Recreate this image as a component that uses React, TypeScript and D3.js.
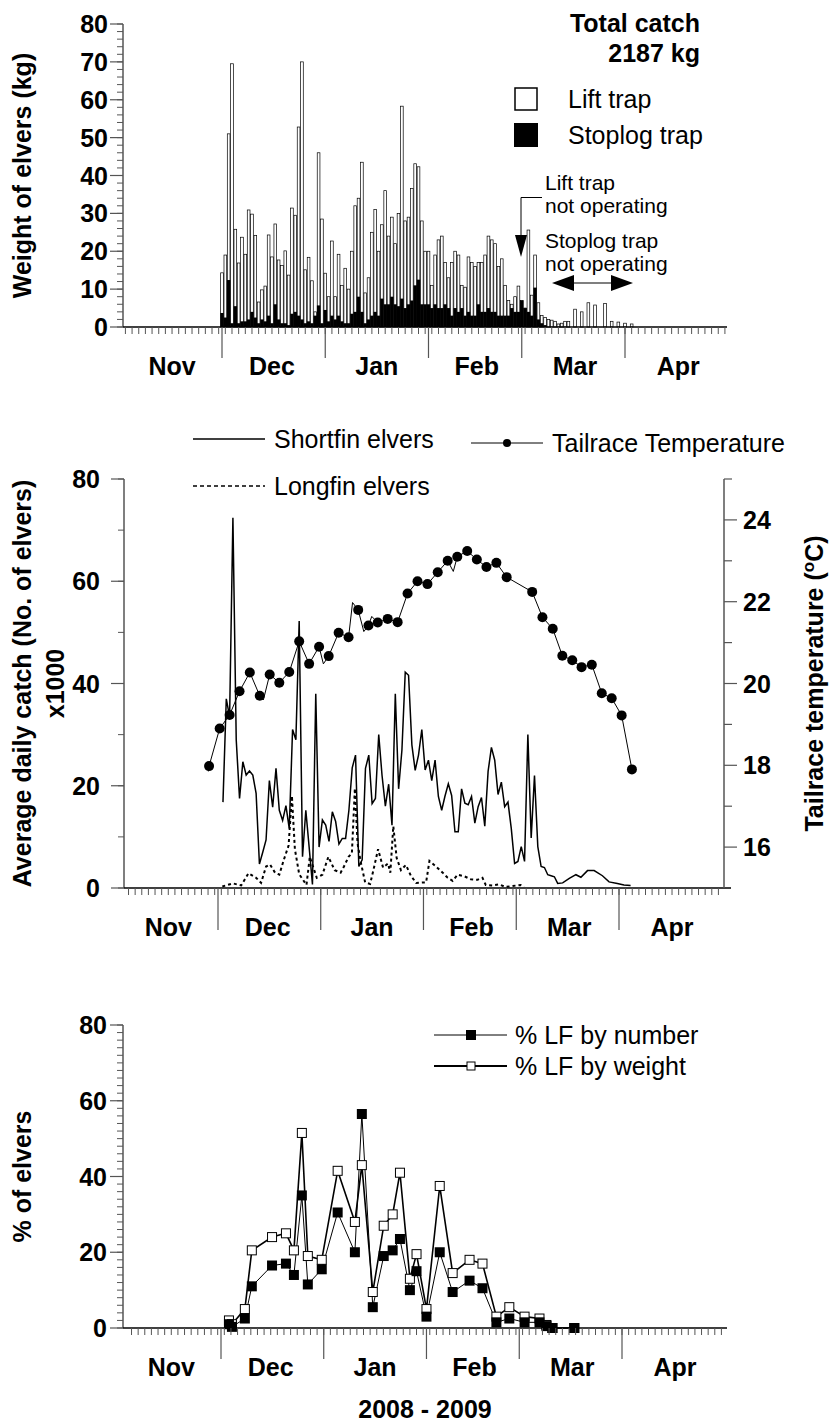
import React from 'react';
import * as d3 from 'd3';

const FONT = '"Liberation Sans", Arial, Helvetica, sans-serif';

// ---------- shared calendar (days since 1 Dec 2008) ----------
const monthNames = ['Nov', 'Dec', 'Jan', 'Feb', 'Mar', 'Apr'];
const monthBoundaryDays = [0, 31, 62, 90, 121];
const monthLabelDays = [-15, 15, 46.5, 76.5, 106, 137];

// ---------- Panel A: daily weight of elvers (kg), from 1 Dec ----------
const totalWeightKg = [
  14.3, 19, 51, 69.5, 25.8, 16.9, 23.7, 19.2, 30.9, 29.8, 24.2, 6.6, 9.8, 10.8, 24.3, 18.5, 27.2, 17.7, 16.2, 20.1,
  13.7, 31.4, 29.5, 52.8, 70, 15.1, 18.4, 12.2, 4, 46, 28.5,
  14.2, 8, 22.7, 8, 19.2, 11, 15.5, 10, 20, 32, 34, 43.5, 9, 13, 25, 31, 20, 27, 36, 24,
  29, 22, 30, 58.3, 28, 29, 36.6, 43.1, 42.3, 28, 20,
  20, 11, 19, 23, 24, 17, 13, 17, 20, 19, 11, 10.5, 18.5, 17, 16, 17, 17, 19, 24, 23,
  22, 16, 18, 11, 7, 6, 8, 10.8,
  7, 5, 25.6, 8.4, 19, 6.4, 3, 2.5, 2, 1.8, 1.5, 0.8, 1, 1.5, 1.5, 0, 4.7, 0, 4, 0,
  6.4, 0, 5.8, 0, 0, 6.2, 0, 1.5, 0, 1.3, 0, 1, 0, 0.8,
];
const stoplogWeightKg = [
  3.7, 2.5, 12.4, 1, 5.5, 1, 1.5, 1.5, 2, 4, 2.5, 1, 2, 1.5, 3, 1, 6, 2, 1, 1,
  0.5, 3.5, 4, 3, 2, 1, 1.5, 1, 3, 5.7, 1,
  4.5, 1.5, 3, 2, 3, 1.5, 1, 1, 3.5, 4, 8, 4, 1, 2, 3, 4, 3, 7.5, 6, 6,
  8, 6, 5.5, 7.5, 5, 6, 7, 11, 12.5, 6, 6,
  6, 5, 6, 5, 5, 6, 5, 3, 5, 4, 5, 3, 4, 3, 3, 6, 4, 4, 5, 4,
  4, 3, 3, 3, 3, 5, 4, 4,
  7, 5, 4, 3, 10.4, 2, 1, 0.5, 0, 0, 0, 0, 0, 0, 0, 0, 0, 0, 0, 0,
  0, 0, 0, 0, 0, 0, 0, 0, 0, 0, 0, 0, 0, 0,
];

// ---------- Panel B: average daily catch (x1000) and temperature ----------
const shortfinCatch: [number, number][] = [
  [1.5, 16.8], [2.5, 37], [3.5, 33.5], [4.5, 72.4], [5.5, 29], [6.5, 17.5], [7.5, 24.7], [8.5, 22.1], [9.5, 22.9],
  [10.5, 22.1], [11.5, 18.5], [12.5, 4.7], [13.5, 7], [14.5, 9.4], [15.5, 21], [16.5, 15.8], [17.5, 23.4],
  [18.5, 15.2], [19.5, 13.2], [20.5, 16.1], [21.5, 11.6], [22.5, 31], [23.5, 29], [24.5, 52.2], [25.5, 6.1],
  [26.5, 15.2], [27.5, 8], [28.5, 0.7], [29.5, 38], [30.5, 8], [31.5, 13.3], [32.5, 12.3], [33.5, 9.1],
  [34.5, 14.9], [35.5, 13], [36.5, 8.6], [37.5, 9.7], [38.5, 9.7], [39.5, 15.2], [40.5, 23.5], [41.5, 26],
  [42.5, 4.2], [43.5, 5.5], [44.5, 23.4], [45.5, 26], [46.5, 16.5], [47.5, 17.5], [48.5, 30], [49.5, 22],
  [50.5, 16], [51.5, 20.3], [52.5, 12.3], [53.5, 38], [54.5, 19.4], [55.5, 27], [56.5, 42.2], [57.5, 41.6],
  [58.5, 28], [59.5, 23], [60.5, 26], [61.5, 31], [62.5, 23.1], [63.5, 25], [64.5, 21], [65.5, 25],
  [66.5, 17.9], [67.5, 15.2], [68.5, 18], [69.5, 20.4], [70.5, 18.1], [71.5, 11], [72.5, 11], [73.5, 19.4],
  [74.5, 16.6], [75.5, 16.3], [76.5, 17.9], [77.5, 12.7], [78.5, 15.9], [79.5, 17.7], [80.5, 12.1],
  [81.5, 22.8], [82.5, 27.5], [83.5, 25], [84.5, 18.3], [85.5, 20.7], [86.5, 15.9], [87.5, 16.8], [88.5, 11.6],
  [89.5, 4.8], [90.5, 5.2], [91.5, 8.1], [92.5, 5.2], [93.5, 30], [94.5, 9.8], [95.5, 22], [96.5, 8.1],
  [97.5, 4.2], [98.5, 4], [99.5, 2.6], [100.5, 2.4], [101.5, 2.2], [102.5, 0.9], [104, 1], [106, 1.9],
  [108, 2.6], [109.5, 2.1], [111.5, 3.4], [113.5, 3.4], [116, 2.4], [118, 1.2], [120.5, 0.9], [122.5, 0.6], [124.5, 0.5],
];
const longfinCatch: [number, number][] = [
  [1.3, 0.3], [4.5, 0.9], [7, 0.5], [9.2, 2.9], [11.5, 2], [13, 1], [14.5, 4.2], [15.7, 4.6], [17.2, 3], [18.5, 2.6],
  [19.8, 5.4], [21.3, 8.3], [22.3, 18], [23.2, 7.6], [24.5, 2.7], [26.7, 0.6], [27.7, 6.1], [29.8, 2], [31.5, 2.6],
  [33.3, 6.1], [35.2, 3.5], [37, 3], [38, 4.2], [39.4, 6.1], [40.4, 6.8], [41.3, 19.5], [42.1, 8.8], [43, 5.3],
  [44.4, 1.1], [45.9, 0.8], [46.9, 3.5], [48.3, 7.6], [49.8, 4], [51.3, 4.8], [52, 3], [52.9, 12.1], [53.9, 5.9],
  [55.2, 3.5], [56.7, 4.5], [58.2, 2.4], [59.8, 1], [61.8, 1.1], [62.8, 1.1], [63.8, 5.3], [65.8, 4.2],
  [67.8, 3], [69.3, 2], [70.8, 1.4], [72.3, 2.6], [74.3, 2.3], [76.3, 1.7], [78.3, 1.6], [79.8, 2],
  [80.8, 0.6], [82.8, 0.5], [84.8, 0.7], [86.8, 0.2], [91.3, 0.6], [92.3, 0.2],
];
const tempMarkers: [number, number][] = [
  [-2.7, 17.98], [0.5, 18.9], [3.5, 19.23], [6.5, 19.81], [9.6, 20.27], [12.6, 19.7], [15.6, 20.22], [18.5, 20.02],
  [21.5, 20.28], [24.5, 21.03], [27.5, 20.48], [30.5, 20.9], [33.4, 20.67], [36.4, 21.24], [39.4, 21.13],
  [42.3, 21.8], [45.4, 21.42], [48.2, 21.49], [51.2, 21.58], [54.2, 21.5], [57.2, 22.2], [60.2, 22.5],
  [63.2, 22.43], [66.3, 22.72], [69.3, 23.0], [72.2, 23.1], [75.2, 23.24], [78.1, 23.03], [81, 22.85],
  [84, 22.95], [87.1, 22.6], [94.8, 22.24], [97.9, 21.62], [101, 21.34], [103.9, 20.68], [106.9, 20.57],
  [109.7, 20.4], [112.8, 20.46], [115.8, 19.76], [118.8, 19.64], [121.8, 19.22], [124.9, 17.9],
];
const tempExtraVertices: [number, number][] = [
  [-2.9, 17.85], [13.7, 19.6], [31.8, 20.48], [40.6, 21.98], [44, 21.27], [46.4, 21.64], [71, 22.74],
];

// ---------- Panel C: % longfin ----------
const lfDays = [2.4, 3.3, 7.2, 9.3, 15.4, 19.6, 22, 24.4, 26.2, 30.4, 35.2, 40.4, 42.5, 45.8, 49.1, 51.8, 54, 57, 59,
  62, 66, 69.9, 75, 78.9, 83.1, 87, 91.6, 96.1, 98.2, 100, 106.6];
const lfByNumber = [1, 0.3, 2.5, 11, 16.5, 17, 14, 35, 11.5, 15.5, 30.5, 20, 56.5, 5.5, 19, 20.5, 23.5, 10, 15, 3,
  20, 9.5, 12.5, 10.5, 1.5, 2.5, 1.5, 1.5, 0.5, 0, 0];
const lfByWeight = [2, 1, 5, 20.5, 24, 25, 20.5, 51.5, 19, 18, 41.5, 28, 43, 9.5, 27, 30, 41, 13, 19.5, 5,
  37.5, 14.5, 18, 17, 3, 5.5, 3, 2.5, 0.8, 0, 0];

// ---------- helpers ----------
type Lin = d3.ScaleLinear<number, number>;

function XAxis({ x, y, left, right, monthTickLen }: { x: Lin; y: number; left: number; right: number; monthTickLen: number }) {
  const minor: number[] = [];
  for (let d = -29; d <= 151; d += 2) {
    const px = x(d);
    if (px > left + 2 && px < right - 2) minor.push(px);
  }
  return (
    <g>
      <line x1={left} x2={right} y1={y} y2={y} stroke="#000" strokeWidth={1.5} />
      {minor.map((px, i) => (
        <line key={i} x1={px} x2={px} y1={y} y2={y + 7} stroke="#555" strokeWidth={1} />
      ))}
      {monthBoundaryDays.map((d) => (
        <line key={'m' + d} x1={x(d)} x2={x(d)} y1={y} y2={y + monthTickLen} stroke="#555" strokeWidth={1.2} />
      ))}
      {monthNames.map((m, i) => (
        <text key={m} x={x(monthLabelDays[i])} y={y + 48} textAnchor="middle" fontFamily={FONT}
          fontWeight="bold" fontSize={25}>{m}</text>
      ))}
    </g>
  );
}

function YAxisLeft({ y, x, majors, labels, minorStep, max, labelGap }: { y: Lin; x: number; majors: number[]; labels: number[]; minorStep: number; max: number; labelGap: number }) {
  const minor: number[] = [];
  for (let v = 0; v <= max + 1e-6; v += minorStep) minor.push(v);
  return (
    <g>
      <line x1={x} x2={x} y1={y(0)} y2={y(max)} stroke="#555" strokeWidth={1.5} />
      {minor.map((v) => (
        <line key={'n' + v} x1={x - 6} x2={x} y1={y(v)} y2={y(v)} stroke="#555" strokeWidth={1} />
      ))}
      {majors.map((v) => (
        <line key={'j' + v} x1={x - 13} x2={x} y1={y(v)} y2={y(v)} stroke="#555" strokeWidth={1.2} />
      ))}
      {labels.map((v) => (
        <text key={'l' + v} x={x - labelGap} y={y(v) + 9} textAnchor="end" fontFamily={FONT} fontWeight="bold"
          fontSize={25}>{v}</text>
      ))}
    </g>
  );
}

export default function App() {
  // Panel A scales
  const xA = d3.scaleLinear().domain([0, 121]).range([222, 625]);
  const yA = d3.scaleLinear().domain([0, 80]).range([327, 24]);
  // Panel B scales
  const xB = d3.scaleLinear().domain([0, 121]).range([218, 619]);
  const yB = d3.scaleLinear().domain([0, 80]).range([888, 479]);
  const yT = d3.scaleLinear().domain([15, 25]).range([888, 479]);
  // Panel C scales
  const xC = d3.scaleLinear().domain([0, 121]).range([221, 622]);
  const yC = d3.scaleLinear().domain([0, 80]).range([1328, 1025]);

  const barW = 2.7;

  const lineB = d3.line<[number, number]>().x((d) => xB(d[0])).y((d) => yB(d[1]));
  const tempLine = d3.line<[number, number]>().x((d) => xB(d[0])).y((d) => yT(d[1]));
  const tempAll = [...tempMarkers, ...tempExtraVertices].sort((a, b) => a[0] - b[0]);

  const numPath = d3.line<number>().x((_, i) => xC(lfDays[i])).y((v) => yC(v))(lfByNumber) || '';
  const wtPath = d3.line<number>().x((_, i) => xC(lfDays[i])).y((v) => yC(v))(lfByWeight) || '';

  const arrowHead = (x: number, y: number, dir: 'down' | 'left' | 'right') => {
    if (dir === 'down') return `M${x - 6},${y - 22}L${x + 6},${y - 22}L${x},${y}Z`;
    if (dir === 'left') return `M${x},${y}L${x + 22},${y - 8}L${x + 22},${y + 8}Z`;
    return `M${x},${y}L${x - 22},${y - 8}L${x - 22},${y + 8}Z`;
  };

  return (
    <svg width={830} height={1428} style={{ position: 'absolute', left: 0, top: 0, background: '#fff' }}
      fontFamily={FONT}>
      <rect width={830} height={1428} fill="#fff" />

      {/* ================= Panel A ================= */}
      <g>
        {totalWeightKg.map((v, i) => v > 0 && (
          <rect key={'w' + i} x={xA(i) - barW / 2} y={yA(v)} width={barW} height={yA(0) - yA(v)}
            fill="#fff" stroke="#000" strokeWidth={0.7} />
        ))}
        {stoplogWeightKg.map((v, i) => v > 0 && (
          <rect key={'b' + i} x={xA(i) - barW / 2 - 0.35} y={yA(v)} width={barW + 0.7} height={yA(0) - yA(v)}
            fill="#000" />
        ))}
        <YAxisLeft y={yA} x={123} majors={d3.range(0, 81, 10)} labels={d3.range(0, 81, 10)} minorStep={2} max={80} labelGap={15} />
        <XAxis x={xA} y={327} left={123} right={727} monthTickLen={31} />
        <text transform={`translate(31,${(yA(0) + yA(80)) / 2}) rotate(-90)`} textAnchor="middle" fontWeight="bold"
          fontSize={25}>Weight of elvers (kg)</text>

        <text x={700} y={32} textAnchor="end" fontWeight="bold" fontSize={25}>Total catch</text>
        <text x={700} y={62} textAnchor="end" fontWeight="bold" fontSize={25}>2187 kg</text>
        <rect x={515} y={88} width={22} height={22} fill="#fff" stroke="#000" strokeWidth={1.5} />
        <rect x={514} y={123} width={24} height={24} fill="#000" />
        <text x={568} y={108} fontSize={25}>Lift trap</text>
        <text x={568} y={144} fontSize={25}>Stoplog trap</text>

        <text x={545} y={190} fontSize={21}>Lift trap</text>
        <text x={545} y={213} fontSize={21}>not operating</text>
        <path d={`M542,197.5H521V236`} fill="none" stroke="#000" strokeWidth={1} />
        <path d={arrowHead(521, 257, 'down')} fill="#000" />
        <text x={545} y={248} fontSize={21}>Stoplog trap</text>
        <text x={545} y={271} fontSize={21}>not operating</text>
        <line x1={570} x2={614} y1={283} y2={283} stroke="#555" strokeWidth={1.5} />
        <path d={arrowHead(552, 283, 'left')} fill="#000" />
        <path d={arrowHead(633, 283, 'right')} fill="#000" />
      </g>

      {/* ================= Panel B ================= */}
      <g>
        <path d={lineB(longfinCatch) || ''} fill="none" stroke="#000" strokeWidth={2} strokeDasharray="3,3" />
        <path d={lineB(shortfinCatch) || ''} fill="none" stroke="#000" strokeWidth={1.5} />
        <path d={tempLine(tempAll) || ''} fill="none" stroke="#000" strokeWidth={1} />
        {tempMarkers.map((d, i) => (
          <circle key={'t' + i} cx={xB(d[0])} cy={yT(d[1])} r={5} fill="#000" />
        ))}
        <YAxisLeft y={yB} x={124} majors={[0, 20, 40, 60, 80]} labels={[0, 20, 40, 60, 80]} minorStep={10} max={80} labelGap={24} />
        <XAxis x={xB} y={888} left={124} right={731} monthTickLen={42} />
        {/* right axis */}
        <line x1={724} x2={724} y1={yT(15)} y2={yT(25)} stroke="#555" strokeWidth={1.5} />
        {d3.range(16, 26, 1).map((v) => (
          <line key={'rt' + v} x1={724} x2={v % 2 === 0 ? 737 : 732} y1={yT(v)} y2={yT(v)} stroke="#555" strokeWidth={1.2} />
        ))}
        {[16, 18, 20, 22, 24].map((v) => (
          <text key={'rl' + v} x={743} y={yT(v) + 9} fontWeight="bold" fontSize={25}>{v}</text>
        ))}
        <text transform={`translate(31,${(yB(0) + yB(80)) / 2}) rotate(-90)`} textAnchor="middle" fontWeight="bold"
          fontSize={25}>Average daily catch (No. of elvers)</text>
        <text transform={`translate(64,${(yB(0) + yB(80)) / 2}) rotate(-90)`} textAnchor="middle" fontWeight="bold"
          fontSize={25}>x1000</text>
        <text transform={`translate(823,${(yB(0) + yB(80)) / 2}) rotate(-90)`} textAnchor="middle" fontWeight="bold"
          fontSize={25}>Tailrace temperature (<tspan dy={-9} fontSize={17}>o</tspan><tspan dy={9}>C)</tspan></text>

        {/* legend */}
        <line x1={193} x2={265} y1={439} y2={439} stroke="#000" strokeWidth={1.5} />
        <text x={274} y={448} fontSize={25}>Shortfin elvers</text>
        <line x1={193} x2={265} y1={486} y2={486} stroke="#000" strokeWidth={1.5} strokeDasharray="4,3" />
        <text x={274} y={495} fontSize={25}>Longfin elvers</text>
        <line x1={471} x2={543} y1={443} y2={443} stroke="#000" strokeWidth={1} />
        <circle cx={507} cy={443} r={4} fill="#000" />
        <text x={552} y={452} fontSize={25}>Tailrace Temperature</text>
      </g>

      {/* ================= Panel C ================= */}
      <g>
        <path d={wtPath} fill="none" stroke="#000" strokeWidth={1.6} />
        <path d={numPath} fill="none" stroke="#000" strokeWidth={1} />
        {lfByWeight.map((v, i) => (
          <rect key={'ow' + i} x={xC(lfDays[i]) - 4.5} y={yC(v) - 4.5} width={9} height={9} fill="#fff"
            stroke="#000" strokeWidth={1} />
        ))}
        {lfByNumber.map((v, i) => (
          <rect key={'fn' + i} x={xC(lfDays[i]) - 5} y={yC(v) - 5} width={10} height={10} fill="#000" />
        ))}
        <YAxisLeft y={yC} x={123} majors={[0, 20, 40, 60, 80]} labels={[0, 20, 40, 60, 80]} minorStep={2} max={80} labelGap={16} />
        <XAxis x={xC} y={1328} left={123} right={727} monthTickLen={31} />
        <text transform={`translate(31,${(yC(0) + yC(80)) / 2}) rotate(-90)`} textAnchor="middle" fontWeight="bold"
          fontSize={25}>% of elvers</text>
        <text x={425} y={1418} textAnchor="middle" fontWeight="bold" fontSize={25}>2008 - 2009</text>

        <line x1={434} x2={507} y1={1035} y2={1035} stroke="#000" strokeWidth={1} />
        <rect x={466} y={1030} width={10} height={10} fill="#000" />
        <text x={515} y={1044} fontSize={25}>% LF by number</text>
        <line x1={434} x2={507} y1={1066} y2={1066} stroke="#000" strokeWidth={2} />
        <rect x={467} y={1062} width={8} height={8} fill="#fff" stroke="#000" strokeWidth={1} />
        <text x={515} y={1075} fontSize={25}>% LF by weight</text>
      </g>
    </svg>
  );
}
